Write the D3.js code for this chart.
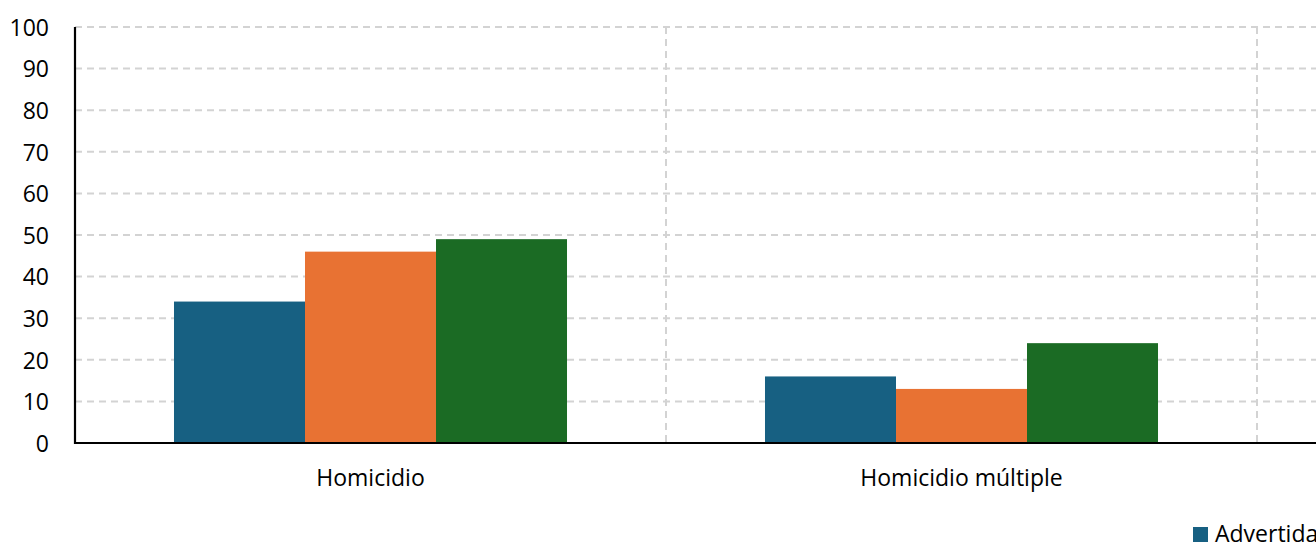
<!DOCTYPE html>
<html><head><meta charset="utf-8">
<script src="https://cdn.jsdelivr.net/npm/d3@7"></script>
<style>
html,body{margin:0;padding:0;background:#fff;overflow:hidden;}
svg{display:block;font-family:"Open Sans",sans-serif;}
</style></head>
<body>
<svg id="chart" width="1316" height="543"></svg>
<script>
const categories = ["Homicidio", "Homicidio múltiple"];
const series = ["Advertida", "No advertida", "Total"];
const advertida = [34, 16];
const noAdvertida = [46, 13];
const total = [49, 24];
const yTicks = [0, 10, 20, 30, 40, 50, 60, 70, 80, 90, 100];
const colors = ["#176082", "#e87233", "#1b6b24"];

(function () {
const values = [advertida, noAdvertida, total];
const W = 1316;
const mLeft = 75, mTop = 27, mBottom = 443;
const catW = 591;

const svg = d3.select("#chart");
const x0 = d3.scaleBand().domain(categories).range([mLeft, mLeft + catW * categories.length]).padding(0);
const gapFrac = 0.335;
const x1 = d3.scaleBand().domain(series)
  .range([x0.bandwidth() * gapFrac / 2, x0.bandwidth() * (1 - gapFrac / 2)]).padding(0);
const y = d3.scaleLinear().domain([0, 100]).range([mBottom, mTop]);

const gridColor = "#d3d3d3";
// horizontal gridlines
svg.append("g").selectAll("line").data(yTicks.filter(d => d > 0)).join("line")
  .attr("x1", mLeft).attr("x2", W + 10)
  .attr("y1", d => y(d)).attr("y2", d => y(d))
  .attr("stroke", gridColor).attr("stroke-width", 2).attr("stroke-dasharray", "7,5");

// vertical gridlines at category boundaries
svg.append("g").selectAll("line").data(categories).join("line")
  .attr("x1", d => x0(d) + x0.bandwidth()).attr("x2", d => x0(d) + x0.bandwidth())
  .attr("y1", y(100)).attr("y2", mBottom)
  .attr("stroke", gridColor).attr("stroke-width", 2).attr("stroke-dasharray", "7,5");

// bars
const groups = svg.append("g").selectAll("g").data(categories).join("g")
  .attr("transform", d => `translate(${x0(d)},0)`);
groups.selectAll("rect").data((c, ci) => series.map((s, si) => ({s, si, v: values[si][ci]})))
  .join("rect")
  .attr("x", d => x1(d.s)).attr("width", x1.bandwidth())
  .attr("y", d => y(d.v)).attr("height", d => mBottom - y(d.v))
  .attr("fill", d => colors[d.si]);

// y axis
const yAxis = svg.append("g").attr("transform", `translate(${mLeft},0)`)
  .call(d3.axisLeft(y).tickValues(yTicks).tickSize(0).tickPadding(26));
yAxis.select(".domain").remove();
yAxis.selectAll("text").attr("font-size", 23).attr("fill", "#000")
  .attr("font-family", "Open Sans, sans-serif").attr("dy", "0.36em");
svg.append("line").attr("x1", mLeft).attr("x2", mLeft).attr("y1", mTop).attr("y2", mBottom + 1)
  .attr("stroke", "#000").attr("stroke-width", 2.2);

// x axis
const xAxis = svg.append("g").attr("transform", `translate(0,${mBottom})`)
  .call(d3.axisBottom(x0).tickSize(0).tickPadding(27));
xAxis.select(".domain").remove();
xAxis.selectAll("text").attr("font-size", 23).attr("fill", "#000")
  .attr("font-family", "Open Sans, sans-serif").attr("dy", "0.71em");
svg.append("line").attr("x1", mLeft - 1).attr("x2", W + 10).attr("y1", mBottom).attr("y2", mBottom)
  .attr("stroke", "#000").attr("stroke-width", 2.2);

// legend (extends past right edge, as in the reference)
const legend = svg.append("g").attr("transform", "translate(1193,527)");
let lx = 0;
series.forEach((s, i) => {
  const g = legend.append("g").attr("transform", `translate(${lx},0)`);
  g.append("rect").attr("width", 15).attr("height", 15).attr("fill", colors[i]);
  const t = g.append("text").attr("x", 22).attr("y", 15).attr("font-size", 23).attr("fill", "#000").text(s);
  lx += 22 + t.node().getComputedTextLength() + 20;
});
})();
</script>
</body></html>
